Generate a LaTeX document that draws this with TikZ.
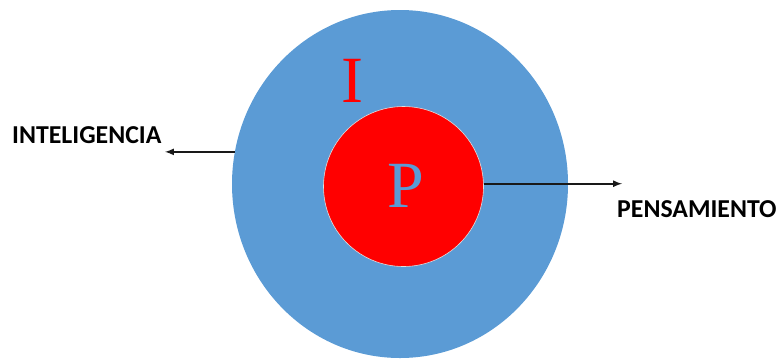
\documentclass[tikz,border=0pt]{standalone}
\usepackage{fontspec}
\setmainfont{Liberation Serif}
\newfontfamily\labelfont{Carlito}
\usetikzlibrary{shapes.geometric}
\definecolor{kreisblau}{RGB}{91,155,213}
\definecolor{kreisrot}{RGB}{255,0,0}

\begin{document}
\begin{tikzpicture}[x=1pt, y=-1pt, >=latex,
		beschriftung/.style={font=\labelfont\bfseries\fontsize{25.8}{26}\selectfont, inner sep=0pt},
		buchstabe/.style={font=\fontsize{66}{66}\selectfont, inner sep=0pt},
		pfeil/.style={->, line width=2pt, black!90}]
				%Bildbereich
				\useasboundingbox (0,0) rectangle (776,360);
				% Kreise zeichnen
				\node[ellipse, fill=kreisblau, minimum width=336pt, minimum height=348pt, inner sep=0pt] (aussen) at (400,184) {};
				\node[circle, fill=kreisrot, draw=white!75!gray, line width=0.6pt, minimum size=160pt, inner sep=0pt] (innen) at (403.5,186.5) {};
				% Buchstaben
				\node[buchstabe, kreisrot, anchor=base] (buchI) at (352,102) {I};
				\node[buchstabe, kreisblau, anchor=base] (buchP) at (406,207) {P};
				% Beschriftung
				\node[beschriftung, anchor=base west] (intel) at (12,143) {INTELIGENCIA};
				\node[beschriftung, anchor=base west] (pens) at (617,217) {PENSAMIENTO};
				% Pfeile
				\coordinate (spitzeI) at (165,151);
				\coordinate (spitzeP) at (622,183);
				\draw[pfeil] (aussen.169.3) -- (aussen.169.3 -| spitzeI);
				\draw[pfeil] (innen.2.5) -- (innen.2.5 -| spitzeP);
		\end{tikzpicture}
\end{document}
